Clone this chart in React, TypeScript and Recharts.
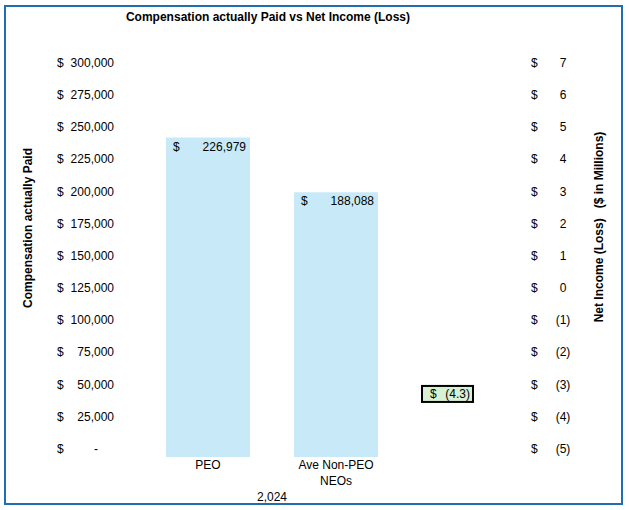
import React from 'react';
import { ComposedChart, Bar, Line, XAxis, YAxis, LabelList } from 'recharts';

// ---- data ----
const categories = ['PEO', 'Ave Non-PEO NEOs', ''];
const compensationActuallyPaid = [226979, 188088, null];
const netIncomeMillions = [null, null, -4.3];
const compTicks = [0, 25000, 50000, 75000, 100000, 125000, 150000, 175000, 200000, 225000, 250000, 275000, 300000];
const netIncomeTicks = [-5, -4, -3, -2, -1, 0, 1, 2, 3, 4, 5, 6, 7];
const groupLabel = '2,024';
const titleText = 'Compensation actually Paid vs Net Income (Loss)';
const leftAxisTitle = 'Compensation actually Paid';
const rightAxisTitle = 'Net Income (Loss)   ($ in Millions)';

const data = categories.map((c, i) => ({
  category: c,
  comp: compensationActuallyPaid[i],
  net: netIncomeMillions[i],
}));

const FONT = '"Liberation Sans", Arial, Helvetica, sans-serif';
const BAR_COLOR = '#C8EAF8';
const FRAME_COLOR = '#1E6EB0';

const fmtComp = (v: number) => (v === 0 ? '-' : v.toLocaleString('en-US'));
const fmtNet = (v: number) => (v < 0 ? `(${Math.abs(v)})` : `${v}`);

const LeftTick = (props: any) => {
  const { x, y, payload } = props;
  const v = payload.value as number;
  return (
    <g fontFamily={FONT} fontSize={12} fill="#000">
      <text x={x - 87} y={y} dominantBaseline="central">$</text>
      <text x={v === 0 ? x - 46 : x - 30} y={y} textAnchor="end" dominantBaseline="central">
        {fmtComp(v)}
      </text>
    </g>
  );
};

const RightTick = (props: any) => {
  const { x, y, payload } = props;
  const v = payload.value as number;
  return (
    <g fontFamily={FONT} fontSize={12} fill="#000">
      <text x={x + 3} y={y} dominantBaseline="central">$</text>
      <text x={x + 35} y={y} textAnchor="middle" dominantBaseline="central">
        {fmtNet(v)}
      </text>
    </g>
  );
};

const splitLabel = (s: string) => {
  if (s.length <= 10) return [s];
  const i = s.lastIndexOf(' ');
  return [s.slice(0, i), s.slice(i + 1)];
};

const XTick = (props: any) => {
  const { x, y, payload } = props;
  const lines = splitLabel(String(payload.value ?? ''));
  return (
    <g fontFamily={FONT} fontSize={12} fill="#000">
      {lines.map((l, i) => (
        <text key={i} x={x} y={y + 8 + i * 16} textAnchor="middle" dominantBaseline="central">
          {l}
        </text>
      ))}
    </g>
  );
};

const BarValueLabel = (props: any) => {
  const vb = props.viewBox && props.viewBox.width != null ? props.viewBox : props;
  const { x, y, width } = vb;
  const value = props.value;
  if (value == null) return null;
  return (
    <g fontFamily={FONT} fontSize={12} fill="#000">
      <text x={x + 7} y={y + 9} dominantBaseline="central">$</text>
      <text x={x + width - 4} y={y + 9} textAnchor="end" dominantBaseline="central">
        {Number(value).toLocaleString('en-US')}
      </text>
    </g>
  );
};

const NetLabel = (props: any) => {
  const vb = props.viewBox && props.viewBox.x != null ? props.viewBox : props;
  const { x, y } = vb;
  const value = props.value;
  if (value == null || x == null || y == null) return null;
  return (
    <g fontFamily={FONT} fontSize={12} fill="#000">
      <rect x={x - 42} y={y - 40.5} width={51} height={16} fill="#D8F1D4" stroke="#000" strokeWidth={2} />
      <text x={x - 34} y={y - 32.5} dominantBaseline="central">$</text>
      <text x={x + 6} y={y - 32.5} textAnchor="end" dominantBaseline="central">
        {fmtNet(Number(value))}
      </text>
    </g>
  );
};

export default function App() {
  return (
    <div style={{ position: 'absolute', left: 0, top: 0, width: 629, height: 510, background: '#fff' }}>
      <div
        style={{
          position: 'absolute',
          left: 4,
          top: 5,
          width: 619,
          height: 500,
          border: `2px solid ${FRAME_COLOR}`,
          boxSizing: 'border-box',
        }}
      />
      <div style={{ position: 'absolute', left: 0, top: 0 }}>
        <ComposedChart width={629} height={510} data={data} margin={{ top: 63, right: 0, bottom: 0, left: 0 }}>
          <XAxis
            dataKey="category"
            type="category"
            axisLine={false}
            tickLine={false}
            tickSize={0}
            tickMargin={0}
            height={53}
            interval={0}
            tick={<XTick />}
          />
          <YAxis
            yAxisId="comp"
            orientation="left"
            width={144}
            domain={[-6250, 300000]}
            ticks={compTicks}
            axisLine={false}
            tickLine={false}
            tickSize={0}
            tickMargin={0}
            interval={0}
            tick={<LeftTick />}
          />
          <YAxis
            yAxisId="net"
            orientation="right"
            width={101}
            domain={[-5.25, 7]}
            ticks={netIncomeTicks}
            axisLine={false}
            tickLine={false}
            tickSize={0}
            tickMargin={0}
            interval={0}
            tick={<RightTick />}
          />
          <YAxis yAxisId="zbars" orientation="right" width={0} hide domain={[0, 280000]} />
          <Bar yAxisId="zbars" dataKey="comp" fill={BAR_COLOR} barSize={84} isAnimationActive={false}>
            <LabelList dataKey="comp" content={<BarValueLabel />} />
          </Bar>
          {/* carrier series so the printed compensation axis gets its scale; draws nothing */}
          <Line
            yAxisId="comp"
            dataKey="comp"
            stroke="none"
            dot={false}
            activeDot={false}
            legendType="none"
            isAnimationActive={false}
          />
          <Line
            yAxisId="net"
            dataKey="net"
            stroke="none"
            dot={false}
            activeDot={false}
            isAnimationActive={false}
          >
            <LabelList dataKey="net" content={<NetLabel />} />
          </Line>
        </ComposedChart>
      </div>
      <svg
        width={629}
        height={510}
        style={{ position: 'absolute', left: 0, top: 0, pointerEvents: 'none' }}
        fontFamily={FONT}
      >
        <text x={268} y={17} textAnchor="middle" dominantBaseline="central" fontSize={12} fontWeight="bold">
          {titleText}
        </text>
        <text
          transform="translate(28,228) rotate(-90)"
          textAnchor="middle"
          dominantBaseline="central"
          fontSize={12}
          fontWeight="bold"
        >
          {leftAxisTitle}
        </text>
        <text
          transform="translate(599,227) rotate(-90)"
          textAnchor="middle"
          dominantBaseline="central"
          fontSize={12}
          fontWeight="bold"
          style={{ whiteSpace: 'pre' }}
        >
          {rightAxisTitle}
        </text>
        <text x={272} y={497} textAnchor="middle" dominantBaseline="central" fontSize={12}>
          {groupLabel}
        </text>
      </svg>
    </div>
  );
}
